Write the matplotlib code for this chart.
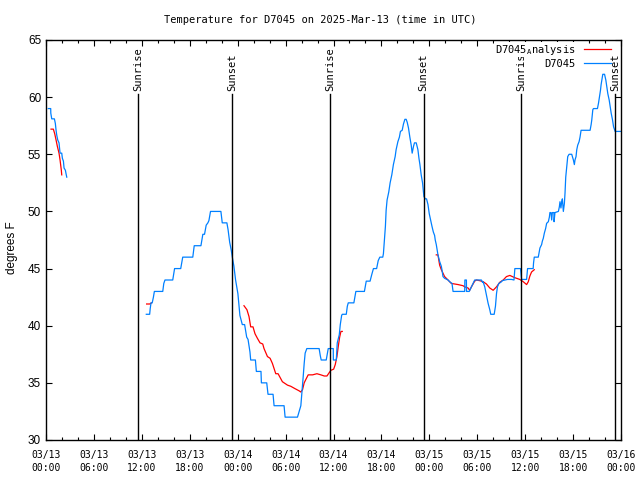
import numpy as np
import matplotlib
matplotlib.use("Agg")
import matplotlib.pyplot as plt
import matplotlib.dates as mdates
from datetime import datetime, timedelta

start = datetime(2025, 3, 13)

# observed D7045 (hours after 03/13 00:00 UTC, degrees F)
obs1_h = [0.29, 0.59, 0.6, 0.72, 1.05, 1.17, 1.26, 1.34, 1.47, 1.63, 1.76, 1.97, 2.05, 2.18, 2.26, 2.43, 2.51, 2.6]
obs1_v = [59.0, 59.0, 58.6, 58.1, 58.1, 57.7, 57.1, 56.7, 56.25, 56.0, 55.1, 55.1, 54.65, 54.4, 53.8, 53.6, 53.3, 53.0]

obs2_h = [12.56, 12.98, 13.05, 13.15, 13.3, 13.45, 13.57, 14.62, 14.75, 14.9, 15.87, 16.1, 16.87, 17.12, 18.38,
          18.56, 19.4, 19.55, 19.64, 19.85, 20.06, 20.27, 20.4, 20.6, 21.9, 22.07, 22.65, 22.8, 23.0, 23.2,
          23.33, 23.53, 23.74, 24.03, 24.28, 24.58, 24.87, 25.13, 25.3, 25.54, 25.63, 26.22, 26.34, 26.92, 26.97,
          27.64, 27.8, 28.43, 28.56, 29.81, 29.94, 31.49, 31.7, 31.91, 32.04, 32.2, 32.33, 32.45, 32.66, 34.2,
          34.34, 34.46, 35.09, 35.21, 35.34, 35.97, 35.98, 36.35, 36.47, 36.72, 36.85, 37.02, 37.1, 37.6, 37.73,
          37.85, 38.55, 38.8, 39.87, 40.1, 40.58, 40.8, 41.0, 41.4, 41.6, 41.8, 42.17, 42.25, 42.38, 42.5,
          42.59, 42.71, 42.92, 43.09, 43.3, 43.5, 43.72, 43.84, 44.06, 44.25, 44.38, 44.6, 44.76, 44.94, 45.1,
          45.23, 45.39, 45.56, 45.73, 45.85, 46.02, 46.14, 46.36, 46.57, 46.7, 46.82, 46.98, 47.15, 47.32, 47.49,
          47.65, 47.83, 47.99, 48.16, 48.33, 48.5, 48.66, 48.74, 48.87, 49.08, 49.3, 49.5, 49.58, 49.71, 49.91,
          50.34, 50.54, 50.84, 50.97, 52.43, 52.45, 52.64, 52.66, 53.0, 53.2, 53.48, 53.68, 54.52, 54.65, 54.73,
          54.94, 55.15, 55.36, 55.57, 55.69, 56.12, 56.28, 56.41, 56.53, 56.7, 56.95, 57.16, 57.79, 58.29, 58.6,
          58.71, 59.42, 59.55, 60.18, 60.3, 61.0, 61.05, 61.14, 61.64, 61.72, 61.85, 62.06, 62.15, 62.27, 62.4,
          62.56, 62.69, 62.9, 63.03, 63.1, 63.23, 63.32, 63.4, 63.6, 63.62, 63.73, 64.16, 64.28, 64.36, 64.48,
          64.57, 64.66, 64.78, 64.91, 64.99, 65.08, 65.2, 65.33, 65.5, 65.83, 66.04, 66.16, 66.24, 66.37, 66.46,
          66.58, 66.75, 66.87, 67.0, 68.13, 68.26, 68.34, 68.47, 68.55, 69.05, 69.18, 69.3, 69.43, 69.51, 69.6,
          69.72, 69.94, 70.1, 70.23, 70.35, 70.52, 70.64, 70.77, 70.94, 71.07, 71.27, 72.3]
obs2_v = [41.0, 41.0, 41.5, 42.0, 42.0, 42.5, 43.0, 43.0, 43.7, 44.0, 44.0, 45.0, 45.0, 46.0, 46.0,
          47.0, 47.0, 47.6, 48.0, 48.0, 48.8, 49.0, 49.2, 50.0, 50.0, 49.0, 49.0, 48.4, 47.3, 46.6,
          46.0, 45.2, 44.0, 42.8, 40.9, 40.1, 40.1, 39.0, 38.8, 37.7, 37.0, 37.0, 36.0, 36.0, 35.0,
          35.0, 34.0, 34.0, 33.0, 33.0, 32.0, 32.0, 32.5, 33.0, 34.1, 35.5, 36.7, 37.6, 38.0, 38.0,
          37.4, 37.0, 37.0, 37.5, 38.0, 38.0, 37.0, 37.0, 38.5, 39.2, 40.1, 40.9, 41.0, 41.0, 41.7,
          42.0, 42.0, 43.0, 43.0, 43.9, 43.9, 44.5, 45.0, 45.0, 45.7, 46.0, 46.0, 46.3, 47.5, 48.7,
          50.1, 51.0, 51.7, 52.5, 53.2, 54.1, 54.8, 55.4, 56.1, 56.5, 57.0, 57.1, 57.65, 58.06, 58.06,
          57.8, 57.3, 56.5, 55.8, 55.1, 55.7, 56.0, 56.0, 55.4, 54.65, 54.1, 53.2, 52.5, 51.3, 51.1,
          51.1, 50.6, 49.8, 49.25, 48.7, 48.2, 47.9, 47.5, 47.1, 46.2, 45.6, 45.2, 44.9, 44.3, 44.15,
          44.0, 43.85, 43.7, 43.0, 43.0, 44.0, 44.0, 43.0, 43.0, 43.3, 43.7, 44.0, 44.0, 43.8, 43.85,
          43.4, 42.7, 41.96, 41.4, 41.0, 41.0, 41.7, 42.8, 43.4, 43.7, 43.8, 43.95, 44.05, 44.05, 44.0,
          45.0, 45.0, 44.05, 44.05, 45.0, 45.0, 45.5, 46.0, 46.0, 46.3, 46.8, 47.1, 47.4, 47.65, 48.1,
          48.5, 48.96, 49.1, 49.5, 49.9, 49.9, 49.25, 49.9, 49.9, 49.1, 49.9, 50.0, 50.4, 50.85, 50.3,
          50.85, 51.1, 50.0, 50.7, 51.6, 53.0, 53.9, 54.8, 55.0, 55.0, 54.5, 54.1, 54.5, 54.8, 55.4,
          55.8, 56.1, 56.5, 57.1, 57.1, 57.6, 58.0, 58.9, 59.0, 59.0, 59.46, 60.0, 60.6, 61.1, 61.5,
          62.0, 62.0, 61.5, 60.9, 60.3, 59.75, 59.2, 58.6, 58.0, 57.4, 57.0, 57.0]

# D7045 analysis
ana1_h = [0.63, 0.92, 1.09, 1.26, 1.42, 1.63, 1.76, 1.92, 1.97]
ana1_v = [57.2, 57.2, 56.8, 56.25, 55.7, 55.1, 54.5, 53.6, 53.2]

ana2_h = [12.6, 13.0, 13.2]
ana2_v = [41.9, 41.9, 42.0]

ana3_h = [24.79, 25.16, 25.42, 25.63, 25.92, 26.17, 26.47, 26.8, 27.14, 27.3, 27.73, 28.06, 28.35, 28.77,
          29.06, 29.6, 30.24, 30.65, 31.16, 31.7, 31.9, 32.12, 32.33, 32.54, 32.83, 33.38, 33.92, 34.42,
          34.84, 35.18, 35.47, 35.68, 36.02, 36.22, 36.43, 36.6, 36.77, 36.93, 37.1]
ana3_v = [41.75, 41.4, 40.8, 39.9, 39.9, 39.3, 38.9, 38.5, 38.4, 38.0, 37.3, 37.15, 36.7, 35.8,
          35.8, 35.1, 34.8, 34.7, 34.5, 34.3, 34.2, 34.4, 35.0, 35.3, 35.7, 35.7, 35.8, 35.7,
          35.6, 35.6, 35.9, 36.1, 36.2, 36.6, 37.3, 38.2, 39.0, 39.5, 39.5]

ana4_h = [48.87, 49.08, 49.29, 49.5, 49.71, 49.91, 50.34, 50.75, 51.6, 52.22, 52.43, 52.85, 53.05, 53.27,
          53.68, 53.9, 54.31, 54.74, 55.15, 55.57, 55.99, 56.41, 56.82, 57.25, 57.66, 58.08, 58.71, 59.33,
          59.76, 60.18, 60.39, 60.59, 60.8, 61.14]
ana4_v = [46.2, 46.2, 45.3, 44.9, 44.6, 44.3, 44.0, 43.7, 43.6, 43.5, 43.4, 43.3, 43.1, 43.4,
          43.9, 44.0, 43.94, 43.85, 43.65, 43.3, 43.1, 43.4, 43.8, 44.0, 44.3, 44.4, 44.2, 44.05,
          43.85, 43.6, 43.85, 44.35, 44.7, 44.9]

sun_h = [11.5, 23.3, 35.55, 47.3, 59.45, 71.25]
sun_lbl = ["Sunrise", "Sunset", "Sunrise", "Sunset", "Sunrise", "Sunset"]


def to_dt(hours):
    return [start + timedelta(hours=h) for h in hours]


mono = "DejaVu Sans Mono"
red = "#ff0000"
blue = "#0080ff"

fig = plt.figure(figsize=(6.4, 4.8), dpi=100)
ax = fig.add_axes([46 / 640, 40 / 480, 575 / 640, 400 / 480])

ax.plot(to_dt(ana1_h), ana1_v, color=red, lw=0.9, label=r"D7045$_{\mathregular{A}}$nalysis")
for hh, vv in [(ana2_h, ana2_v), (ana3_h, ana3_v), (ana4_h, ana4_v)]:
    ax.plot(to_dt(hh), vv, color=red, lw=0.9)
ax.plot(to_dt(obs1_h), obs1_v, color=blue, lw=0.9, label="D7045")
ax.plot(to_dt(obs2_h), obs2_v, color=blue, lw=0.9)

for h, s in zip(sun_h, sun_lbl):
    t = start + timedelta(hours=h)
    ax.plot([t, t], [30, 60.3], color="black", lw=1.0)
    ax.text(t, 60.5, s, rotation=90, ha="center", va="bottom", family=mono, fontsize=7.5)

ax.set_xlim(start, start + timedelta(hours=72))
ax.set_ylim(30, 65)
ax.set_yticks(np.arange(30, 66, 5))
ax.xaxis.set_major_locator(mdates.HourLocator(byhour=[0, 6, 12, 18]))
ax.xaxis.set_minor_locator(mdates.HourLocator(interval=2))
ax.xaxis.set_major_formatter(mdates.DateFormatter("%m/%d\n%H:%M"))
ax.tick_params(which="both", direction="in", top=True, right=True, width=0.8)
ax.tick_params(which="major", length=4.5)
ax.tick_params(which="minor", length=2.5)
ax.tick_params(axis="x", pad=7)
for lab in ax.get_xticklabels():
    lab.set_family(mono)
    lab.set_fontsize(7)
    lab.set_linespacing(1.4)
for lab in ax.get_yticklabels():
    lab.set_family("Liberation Sans")
    lab.set_fontsize(8.5)
for sp in ax.spines.values():
    sp.set_linewidth(1.0)

leg = ax.legend(loc="upper right", frameon=False, markerfirst=False, handlelength=2.6,
                borderaxespad=0.0, borderpad=0.15, labelspacing=0.2,
                prop={"family": mono, "size": 7.5}, bbox_to_anchor=(0.985, 0.997))
leg.set_zorder(5)
# key text is opaque in the original: it hides the top of the third "Sunrise"
for txt in leg.get_texts():
    txt.set_bbox(dict(facecolor="white", edgecolor="none", pad=0.5))

fig.text(0.5, 1 - 20 / 480, "Temperature for D7045 on 2025-Mar-13 (time in UTC)",
         ha="center", va="center", family=mono, fontsize=7.5)
fig.text(12 / 640, 0.485, "degrees F", rotation=90, ha="center", va="center",
         family="Liberation Sans", fontsize=8.5)

fig.savefig("out.png", dpi=100)
